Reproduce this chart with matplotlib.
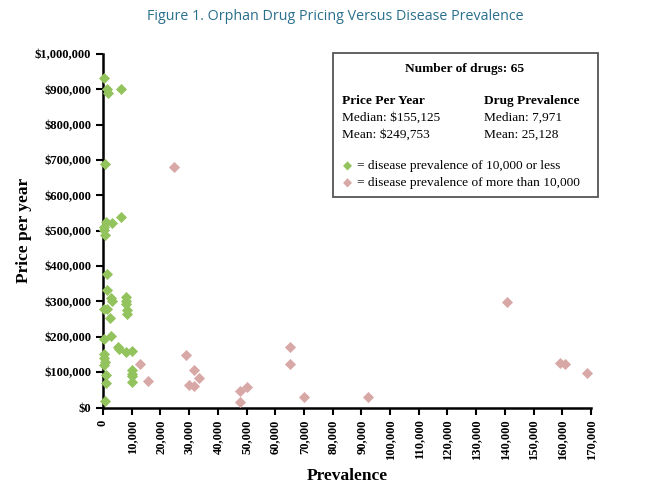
import matplotlib
matplotlib.use("Agg")
import matplotlib.pyplot as plt
from matplotlib.ticker import FuncFormatter, MultipleLocator
from matplotlib.patches import Rectangle

# prevalence <= 10,000
green_prev = [500, 1500, 1800, 6300, 700, 6300, 1000, 3200, 400, 200, 700,
              1500, 1300, 2900, 3000, 200, 1500, 2400, 7900, 7900, 8000, 8200, 8300,
              2800, 350, 5300, 5700, 8000, 10000, 300, 500, 700, 200, 1000, 1000, 700,
              10000, 10000, 10000, 10000]
green_price = [933000, 900000, 890000, 900000, 688000, 540000, 525000, 522000, 512000, 503000, 489000,
               379000, 333000, 310000, 300000, 278000, 278000, 253000, 313000, 302000, 292000, 275000, 264000,
               203000, 193000, 170000, 165000, 158000, 160000, 152000, 140000, 130000, 120000, 92000, 70000, 18000,
               105000, 95000, 88000, 73000]

# prevalence > 10,000
pink_prev = [24800, 12900, 15800, 28900, 31800, 33400, 30000, 31800, 47700, 50000, 47700,
             65200, 65200, 70000, 92400, 140900, 159200, 161000, 168500]
pink_price = [680000, 122000, 75000, 148000, 106000, 84000, 64000, 62000, 47000, 59000, 16000,
              170000, 122000, 29000, 29000, 298000, 125000, 123000, 98000]

green = "#93c35c"
pink = "#d8a8a6"
serif = "Liberation Serif"

fig = plt.figure(figsize=(6.61, 4.92), dpi=100)
ax = fig.add_axes([103/661, 1 - 407.5/492, 488/661, 353.5/492])

ax.scatter(green_prev, green_price, marker="D", s=32, color=green, linewidths=0, zorder=3, clip_on=False)
ax.scatter(pink_prev, pink_price, marker="D", s=32, color=pink, linewidths=0, zorder=3, clip_on=False)

ax.set_xlim(0, 170000)
ax.set_ylim(0, 1000000)
ax.xaxis.set_major_locator(MultipleLocator(10000))
ax.yaxis.set_major_locator(MultipleLocator(100000))
ax.xaxis.set_major_formatter(FuncFormatter(lambda v, p: f"{int(v):,}"))
ax.yaxis.set_major_formatter(FuncFormatter(lambda v, p: f"${int(v):,}"))

for s in ["top", "right"]:
    ax.spines[s].set_visible(False)
for s in ["left", "bottom"]:
    ax.spines[s].set_linewidth(1.8)
ax.tick_params(direction="out", length=5, width=1.5, color="black")
for lab in ax.get_xticklabels():
    lab.set_rotation(90)
for lab in ax.get_xticklabels() + ax.get_yticklabels():
    lab.set_fontfamily(serif)
    lab.set_fontweight("bold")
    lab.set_fontsize(9)

ax.set_xlabel("Prevalence", family=serif, fontweight="bold", fontsize=12.5, labelpad=6)
ax.set_ylabel("Price per year", family=serif, fontweight="bold", fontsize=12.5, labelpad=2)

fig.text(335/661, 1 - 16/492, "Figure 1. Orphan Drug Pricing Versus Disease Prevalence",
         family="Open Sans", fontsize=10.3, color="#2a6f8c", ha="center", va="center")

# summary box
fig.patches.append(Rectangle((333/661, 1 - 197/492), 265/661, 144/492, transform=fig.transFigure,
                             facecolor="white", edgecolor="#555555", linewidth=1.3, zorder=5))

def ft(x, y, s, **kw):
    fig.text(x/661, 1 - y/492, s, family=serif, fontsize=9.6, va="center", zorder=6, **kw)

ft(465, 69, "Number of drugs: 65", fontweight="bold", ha="center")
ft(342, 101, "Price Per Year", fontweight="bold")
ft(342, 118, "Median: $155,125")
ft(342, 135, "Mean: $249,753")
ft(484, 101, "Drug Prevalence", fontweight="bold")
ft(484, 118, "Median: 7,971")
ft(484, 135, "Mean: 25,128")
ft(357, 166, "= disease prevalence of 10,000 or less")
ft(357, 183, "= disease prevalence of more than 10,000")
fig.text(347/661, 1 - 166/492, "\u25c6", color=green, fontsize=8.5, ha="center", va="center", zorder=6)
fig.text(347/661, 1 - 183/492, "\u25c6", color=pink, fontsize=8.5, ha="center", va="center", zorder=6)

fig.savefig("out.png", dpi=100)
